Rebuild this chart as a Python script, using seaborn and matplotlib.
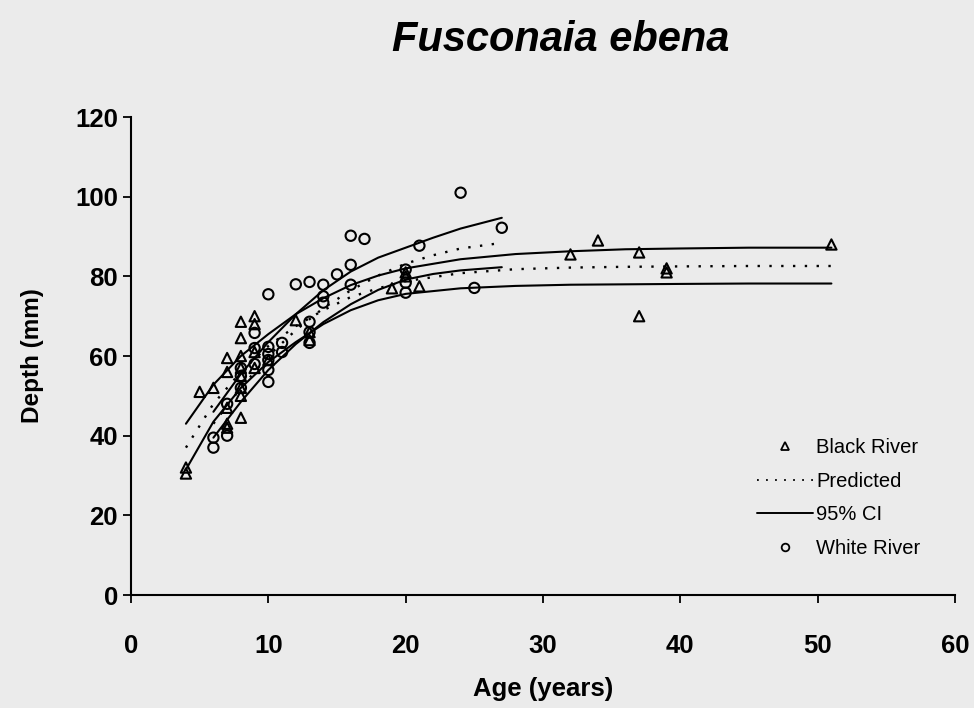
import matplotlib
matplotlib.use("Agg")
import matplotlib.pyplot as plt
from matplotlib.lines import Line2D
import seaborn as sns

# Black River samples (triangles)
black_age = [4, 4, 5, 6, 7, 7, 7, 7, 7, 8, 8, 8, 8, 8, 8, 8, 8, 9, 9, 9, 9,
             10, 12, 13, 13, 19, 20, 20, 21, 32, 34, 37, 37, 39, 39, 51]
black_depth = [32, 30.5, 51, 52, 59.5, 56, 47, 43, 42, 68.6, 64.5, 60, 57, 55, 52, 50, 44.5,
               70, 68, 61, 57, 59, 69, 66, 64, 77, 80, 81, 77.5, 85.5, 89, 86, 70, 82, 81, 88]

# White River samples (circles)
white_age = [6, 6, 7, 7, 8, 8, 8, 9, 9, 9, 10, 10, 10, 10, 10, 10, 11, 11, 12,
             13, 13, 13, 13, 14, 14, 14, 15, 16, 16, 16, 17, 20, 20, 20, 21, 24, 25, 27]
white_depth = [37, 39.5, 40, 48, 52, 55, 57, 65.8, 62, 58, 75.5, 62.3, 59, 56.5, 53.5, 60.5,
               63.3, 61, 78, 78.6, 68.6, 66, 63.3, 77.9, 75, 73.4, 80.5, 90.2, 82.9, 77.9,
               89.4, 81.7, 78.4, 75.9, 87.7, 101, 77.1, 92.2]

# fitted curves
black_fit_age = [4, 6, 8, 10, 12, 14, 16, 18, 20, 24, 28, 32, 36, 40, 45, 51]
black_pred = [37, 48, 56, 62.5, 67.5, 71.5, 74.8, 77, 78.8, 80.8, 81.8, 82.2, 82.4, 82.5, 82.6, 82.6]
black_upper = [43, 52.8, 60, 65.5, 70.5, 74.5, 77.8, 80.2, 82, 84.3, 85.6, 86.3, 86.8, 87, 87.2, 87.2]
black_lower = [31.5, 43.5, 52, 58.5, 63.5, 68, 71.5, 74, 75.6, 77, 77.6, 77.9, 78, 78.1, 78.2, 78.2]

white_fit_age = [6, 8, 10, 12, 14, 16, 18, 20, 22, 24, 27]
white_pred = [43, 52, 60, 66.5, 72, 76.5, 80.2, 83.2, 85.3, 87, 88.4]
white_upper = [46, 55.5, 63.5, 70.5, 76.5, 81.2, 84.7, 87.2, 89.7, 92, 94.7]
white_lower = [39.5, 48.5, 56.5, 63, 68.5, 73, 76.6, 79.2, 80.6, 81.5, 82.3]

bg = "#ebebeb"
sns.set_style("ticks", {"axes.facecolor": bg, "figure.facecolor": bg,
                        "text.color": "black", "axes.labelcolor": "black",
                        "xtick.color": "black", "ytick.color": "black",
                        "axes.edgecolor": "black"})
plt.rcParams["font.family"] = ["Liberation Sans", "DejaVu Sans"]

fig = plt.figure(figsize=(9.74, 7.08), dpi=100)
ax = fig.add_axes([0.1345, 0.1596, 0.846, 0.6751])

dotted = (0, (1, 4))
for ys in [black_upper, black_lower]:
    sns.lineplot(x=black_fit_age, y=ys, ax=ax, color="black", lw=1.5)
sns.lineplot(x=black_fit_age, y=black_pred, ax=ax, color="black", lw=1.7, linestyle=dotted)
for ys in [white_upper, white_lower]:
    sns.lineplot(x=white_fit_age, y=ys, ax=ax, color="black", lw=1.5)
sns.lineplot(x=white_fit_age, y=white_pred, ax=ax, color="black", lw=1.7, linestyle=dotted)

sns.scatterplot(x=black_age, y=black_depth, ax=ax, marker="^", s=55,
                facecolor="none", edgecolor="black", linewidth=1.5)
sns.scatterplot(x=white_age, y=white_depth, ax=ax, marker="o", s=55,
                facecolor="none", edgecolor="black", linewidth=1.5)

ax.set_xlim(0, 60)
ax.set_ylim(0, 120)
ax.set_xticks(range(0, 61, 10))
ax.set_yticks(range(0, 121, 20))
sns.despine(ax=ax)
for s in ["left", "bottom"]:
    ax.spines[s].set_linewidth(1.5)
ax.tick_params(length=6, width=1.3, labelsize=18.5)
ax.tick_params(axis="x", pad=22)
for lbl in ax.get_xticklabels() + ax.get_yticklabels():
    lbl.set_fontweight("bold")
ax.set_xlabel("Age (years)", fontsize=18.5, fontweight="bold", labelpad=14)
ax.set_ylabel("Depth (mm)", fontsize=17.5, fontweight="bold", labelpad=22)

fig.text(0.576, 0.944, "Fusconaia ebena", ha="center", va="center",
         fontsize=30, fontweight="bold", style="italic")

handles = [
    Line2D([], [], marker="^", ls="none", mfc="none", mec="black", ms=5.5, mew=1.3),
    Line2D([], [], color="black", ls=dotted, lw=1.3),
    Line2D([], [], color="black", ls="-", lw=1.4),
    Line2D([], [], marker="o", ls="none", mfc="none", mec="black", ms=5.5, mew=1.3),
]
ax.legend(handles, ["Black River", "Predicted", "95% CI", "White River"],
          loc="upper left", bbox_to_anchor=(0.7495, 0.345), frameon=False,
          fontsize=14.5, handlelength=2.8, handletextpad=0.15, labelspacing=0.72,
          borderaxespad=0)

fig.savefig("out.png", dpi=100, facecolor=bg)
